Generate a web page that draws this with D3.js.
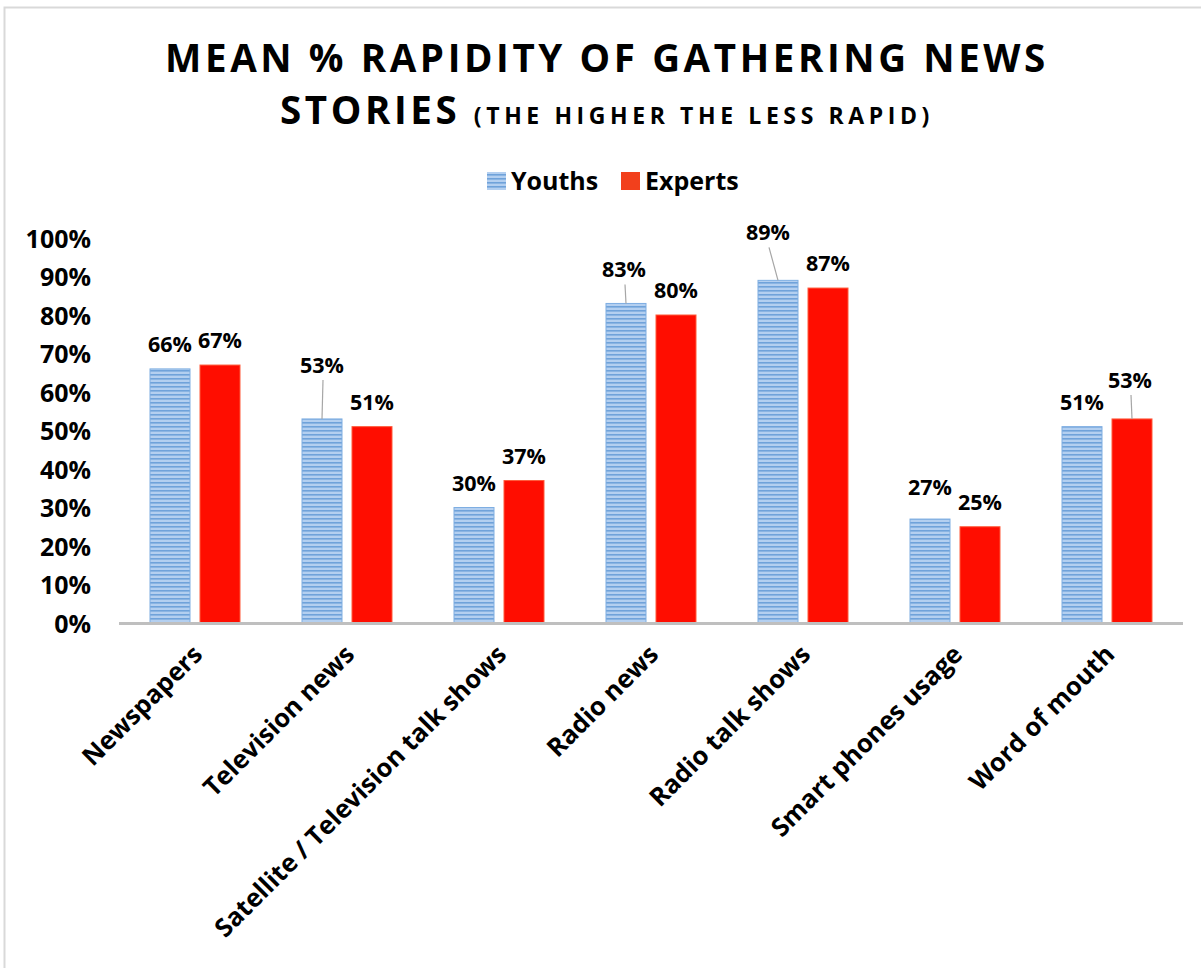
<!DOCTYPE html>
<html>
<head>
<meta charset="utf-8">
<script src="https://cdn.jsdelivr.net/npm/d3@7"></script>
<style>
  html, body { margin: 0; padding: 0; background: #fff; }
  svg { display: block; }
  text { font-family: "Open Sans", "Noto Sans", sans-serif; font-weight: 700; fill: #000; }
</style>
</head>
<body>
<svg id="chart" width="1201" height="968"></svg>
<script>
// Source data
const categories = [
  "Newspapers", "Television news", "Satellite / Television talk shows",
  "Radio news", "Radio talk shows", "Smart phones usage", "Word of mouth"
];
const seriesNames = ["Youths", "Experts"];
const youths  = [66, 53, 30, 83, 89, 27, 51];
const experts = [67, 51, 37, 80, 87, 25, 53];
const yTicks  = [0, 10, 20, 30, 40, 50, 60, 70, 80, 90, 100];

// Labels that sit away from their bar, some with a leader line back to the bar
const labelNudges = {
  "Television news|Youths":    { dx: 0,   dy: -29, leader: true },
  "Radio news|Youths":         { dx: -2,  dy: -9,  leader: true },
  "Radio talk shows|Youths":   { dx: -10, dy: -23, leader: true },
  "Smart phones usage|Youths": { dx: 0,   dy: -7,  leader: false },
  "Word of mouth|Experts":     { dx: -2,  dy: -14, leader: true }
};

const seriesValues = { Youths: youths, Experts: experts };
const rows = categories.map((c, i) => ({
  category: c,
  values: seriesNames.map(s => ({ series: s, value: seriesValues[s][i], category: c }))
}));

const svg = d3.select("#chart");

// Outer frame
svg.append("path")
  .attr("d", "M4.5,968 L4.5,7.5 L1201,7.5")
  .attr("fill", "none").attr("stroke", "#d9d9d9").attr("stroke-width", 2);

// Striped fill for the Youths series
const defs = svg.append("defs");
const pat = defs.append("pattern")
  .attr("id", "youthStripes").attr("patternUnits", "userSpaceOnUse")
  .attr("width", 8).attr("height", 4);
pat.append("rect").attr("width", 8).attr("height", 4).attr("fill", "#b3cff0");
pat.append("rect").attr("y", 2).attr("width", 8).attr("height", 1.6).attr("fill", "#6fa2da");

const colors = { Youths: "url(#youthStripes)", Experts: "#ff0d00" };
const strokes = { Youths: "#7eaee2", Experts: "#ff5a3a" };

// Scales
const x0 = d3.scaleBand().domain(categories).range([119, 1183]);
const x1 = d3.scaleBand().domain(seriesNames).range([31, 121]).paddingInner(0.2);
const y = d3.scaleLinear().domain([0, 100]).range([623, 238]);

// Title
const title = svg.append("g");
title.append("text")
  .attr("x", 607).attr("y", 72).attr("text-anchor", "middle")
  .style("font-size", "38.5px").style("letter-spacing", "3.6px")
  .text("MEAN % RAPIDITY OF GATHERING NEWS");
const t2 = title.append("text")
  .attr("x", 607).attr("y", 124).attr("text-anchor", "middle");
t2.append("tspan").style("font-size", "38.5px").style("letter-spacing", "3.6px").text("STORIES ");
t2.append("tspan").style("font-size", "23px").style("letter-spacing", "4.6px").text("(THE HIGHER THE LESS RAPID)");

// Legend
const legend = svg.append("g").attr("transform", "translate(487,172)");
const legItems = [
  { name: "Youths", x: 0 },
  { name: "Experts", x: 134 }
];
legItems.forEach(it => {
  const g = legend.append("g").attr("transform", `translate(${it.x},0)`);
  g.append("rect").attr("width", 19).attr("height", 18)
    .attr("fill", it.name === "Youths" ? "url(#youthStripes)" : "#f2401c");
  g.append("text").attr("x", 24).attr("y", 18)
    .style("font-size", "25px").text(it.name);
});

// Y axis (labels only)
const yAxis = d3.axisLeft(y).tickValues(yTicks).tickFormat(d => d + "%").tickSize(0).tickPadding(0);
const yG = svg.append("g").attr("transform", "translate(91,0)").call(yAxis);
yG.select(".domain").remove();
yG.selectAll("text")
  .style("font-size", "25px").style("font-family", "'Open Sans', sans-serif")
  .style("font-weight", 700).attr("fill", "#000").attr("dy", "0.36em");

// Bars
const groups = svg.append("g").selectAll("g").data(rows).join("g")
  .attr("transform", d => `translate(${x0(d.category)},0)`);

groups.selectAll("rect").data(d => d.values).join("rect")
  .attr("x", d => x1(d.series))
  .attr("y", d => y(d.value))
  .attr("width", x1.bandwidth())
  .attr("height", d => y(0) - y(d.value))
  .attr("fill", d => colors[d.series])
  .attr("stroke", d => strokes[d.series])
  .attr("stroke-width", 1);

// X axis baseline
svg.append("line")
  .attr("x1", 119).attr("x2", 1183).attr("y1", 623.5).attr("y2", 623.5)
  .attr("stroke", "#bfbfbf").attr("stroke-width", 3);

// Category labels, rotated
const xAxis = d3.axisBottom(x0).tickSize(0).tickPadding(0);
const xG = svg.append("g").attr("transform", "translate(0,623)").call(xAxis);
xG.select(".domain").remove();
xG.selectAll("text")
  .style("font-size", "25.5px").style("font-family", "'Open Sans', sans-serif")
  .style("font-weight", 700).attr("fill", "#000")
  .attr("text-anchor", "end").attr("dy", null).attr("y", 0)
  .attr("transform", "translate(9,33) rotate(-45)");

// Data labels with leader lines
const labelLayer = svg.append("g");
rows.forEach(r => {
  r.values.forEach(v => {
    const cx = x0(r.category) + x1(v.series) + x1.bandwidth() / 2;
    const top = y(v.value);
    const n = labelNudges[r.category + "|" + v.series] || { dx: 0, dy: 0, leader: false };
    const lx = cx + n.dx;
    const ly = top - 25 + n.dy;
    if (n.leader) {
      labelLayer.append("line")
        .attr("x1", lx + 1).attr("y1", ly + 15)
        .attr("x2", cx).attr("y2", top)
        .attr("stroke", "#a6a6a6").attr("stroke-width", 1.2);
    }
    labelLayer.append("text")
      .attr("x", lx).attr("y", ly + 8)
      .attr("text-anchor", "middle")
      .style("font-size", "21.5px")
      .text(v.value + "%");
  });
});
</script>
</body>
</html>
